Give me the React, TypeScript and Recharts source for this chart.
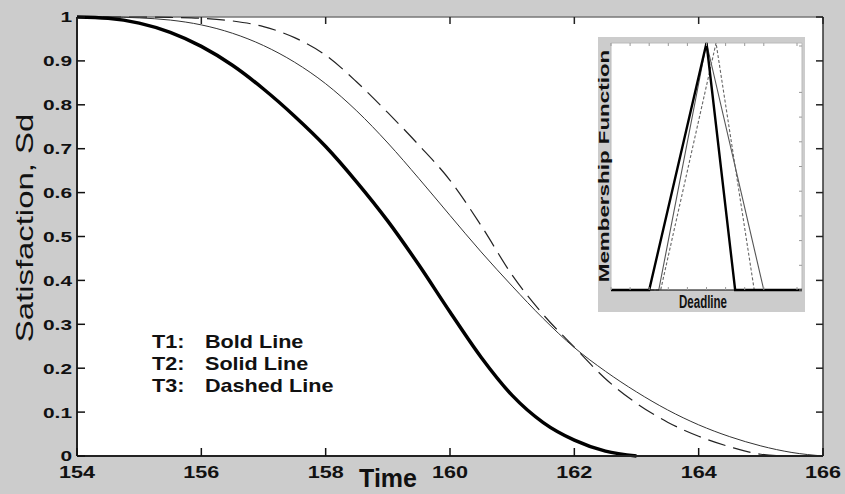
import React from "react";
import { LineChart, Line, XAxis, YAxis, ReferenceLine, CartesianGrid } from "recharts";

const FONT = "'Liberation Sans', Arial, Helvetica, sans-serif";

// main figure: satisfaction against time for the three deadline profiles
const times = [154, 154.5, 155, 155.5, 156, 156.5, 157, 157.5, 158, 158.5, 159, 159.5, 160, 160.5, 161, 161.5, 162, 162.5, 163, 163.5, 164, 164.5, 165, 165.5, 166];
const boldLine = [1, 0.997, 0.986, 0.965, 0.933, 0.89, 0.836, 0.774, 0.705, 0.624, 0.535, 0.435, 0.328, 0.225, 0.138, 0.076, 0.036, 0.011, 0, null, null, null, null, null, null];
const solidLine = [1, 1, 0.998, 0.993, 0.982, 0.963, 0.935, 0.897, 0.848, 0.786, 0.713, 0.632, 0.548, 0.465, 0.387, 0.313, 0.247, 0.193, 0.146, 0.105, 0.071, 0.044, 0.023, 0.008, 0];
const dashedLine = [1, 1, 1, 0.999, 0.997, 0.991, 0.978, 0.953, 0.913, 0.852, 0.782, 0.708, 0.628, 0.525, 0.412, 0.322, 0.248, 0.176, 0.12, 0.077, 0.045, 0.021, 0.004, 0, 0];
const timeTicks = [154, 156, 158, 160, 162, 164, 166];
const satTicks = [0, 0.1, 0.2, 0.3, 0.4, 0.5, 0.6, 0.7, 0.8, 0.9, 1];
const legendIds = ["T1:", "T2:", "T3:"];
const legendNames = ["Bold Line", "Solid Line", "Dashed Line"];

// inset: triangular membership functions over the deadline
const deadlineTicks = [0, 1, 2, 3, 4, 5, 6, 7, 8, 9, 10];
const memberTicks = [0, 0.1, 0.2, 0.3, 0.4, 0.5, 0.6, 0.7, 0.8, 0.9, 1];
const boldTriX = [0, 2, 5, 6.5, 10];
const boldTriY = [0, 0, 1, 0, 0];
const solidTriX = [0, 2.5, 5, 8, 10];
const solidTriY = [0, 0, 1, 0, 0];
const dashedTriX = [0, 2.6, 5.5, 7.5, 10];
const dashedTriY = [0, 0, 1, 0, 0];

const data = times.map((t, i) => ({ time: t, t1: boldLine[i], t2: solidLine[i], t3: dashedLine[i] }));
const tri = (xs: number[], ys: number[]) => xs.map((x, i) => ({ x, y: ys[i] }));

// plot box edges (chart margins + axis sizes)
const PLOT_TOP = 17;
const PLOT_RIGHT = 823;

// y tick: label outside, short marks inside on the left and right edges
const yTick = (props: any) => (
    <g>
        <path d={`M${props.x + 5},${props.y}h8`} stroke="#111" strokeWidth={1.5} fill="none" />
        <path d={`M${PLOT_RIGHT - 7},${props.y}h7`} stroke="#222" strokeWidth={1.5} fill="none" />
        <text
            transform={`translate(${props.x},${props.y + 5.4}) scale(1.39,1)`}
            textAnchor="end"
            fontSize={15}
            fontWeight="bold"
            fontFamily={FONT}
            fill="#111"
        >
            {props.payload.value}
        </text>
    </g>
);

const xTick = (props: any) => (
    <g>
        <path d={`M${props.x},${props.y - 22}v-8`} stroke="#111" strokeWidth={1.5} fill="none" />
        <path d={`M${props.x},${PLOT_TOP}v7`} stroke="#222" strokeWidth={1.5} fill="none" />
        <text
            transform={`translate(${props.x},${props.y}) scale(1.35,1)`}
            textAnchor="middle"
            fontSize={16}
            fontWeight="bold"
            fontFamily={FONT}
            fill="#111"
        >
            {props.payload.value}
        </text>
    </g>
);

// inset plot box inside its own chart
const IN_TOP = 6;
const IN_BOTTOM = 253;
const IN_RIGHT = 204;

const insetXTick = (props: any) => (
    <g>
        <line x1={props.x} x2={props.x} y1={IN_BOTTOM} y2={IN_BOTTOM - 3} stroke="#999" />
        <line x1={props.x} x2={props.x} y1={IN_TOP} y2={IN_TOP + 3} stroke="#999" />
    </g>
);

const insetYTick = (props: any) => (
    <line x1={IN_RIGHT - 3} x2={IN_RIGHT} y1={props.y} y2={props.y} stroke="#999" />
);

function Inset() {
    return (
        <div style={{ position: "absolute", left: 598, top: 37, width: 207, height: 275, background: "#cccccc" }}>
            <div style={{ position: "absolute", left: 13, top: IN_TOP, width: 191, height: 247, background: "#fff" }} />
            <div style={{ position: "absolute", left: 0, top: 0 }}>
                <LineChart width={207} height={275} margin={{ top: IN_TOP, right: 3, bottom: 0, left: 0 }}>
                    <XAxis dataKey="x" type="number" domain={[0, 10]} ticks={deadlineTicks} height={22}
                        tick={insetXTick} tickSize={0} tickMargin={0} tickLine={false} axisLine={{ stroke: "#000" }} />
                    <YAxis type="number" domain={[0, 1]} ticks={memberTicks} width={13}
                        tick={insetYTick} tickSize={0} tickMargin={0} tickLine={false} axisLine={{ stroke: "#bbb" }} />
                    <ReferenceLine y={1} stroke="#bbb" />
                    <ReferenceLine x={10} stroke="#bbb" />
                    <Line data={tri(solidTriX, solidTriY)} dataKey="y" stroke="#555" strokeWidth={1.1} dot={false} isAnimationActive={false} />
                    <Line data={tri(dashedTriX, dashedTriY)} dataKey="y" stroke="#666" strokeWidth={1.1} strokeDasharray="3 2" dot={false} isAnimationActive={false} />
                    <Line data={tri(boldTriX, boldTriY)} dataKey="y" stroke="#000" strokeWidth={2.4} dot={false} isAnimationActive={false} />
                </LineChart>
            </div>
        </div>
    );
}

export default function App() {
    return (
        <div style={{ position: "absolute", left: 0, top: 0, width: 845, height: 494, background: "#cccccc", fontFamily: FONT }}>
            <LineChart width={845} height={494} data={data} margin={{ top: PLOT_TOP, right: 22, bottom: 0, left: 0 }}>
                <CartesianGrid horizontal={false} vertical={false} fill="#ffffff" />
                <XAxis dataKey="time" type="number" domain={[154, 166]} ticks={timeTicks} height={38}
                    tick={xTick} tickSize={0} tickMargin={22} tickLine={false} axisLine={{ stroke: "#222", strokeWidth: 2 }} />
                <YAxis type="number" domain={[0, 1]} ticks={satTicks} width={77}
                    tick={yTick} tickSize={0} tickMargin={5} tickLine={false} axisLine={{ stroke: "#222", strokeWidth: 2 }} />
                <ReferenceLine y={1} stroke="#777" strokeWidth={1.5} />
                <ReferenceLine x={166} stroke="#333" strokeWidth={1.5} />
                <Line type="monotone" dataKey="t3" stroke="#222" strokeWidth={1.2} strokeDasharray="18 8" dot={false} isAnimationActive={false} />
                <Line type="monotone" dataKey="t2" stroke="#333" strokeWidth={1} dot={false} isAnimationActive={false} />
                <Line type="monotone" dataKey="t1" stroke="#000" strokeWidth={3.5} dot={false} isAnimationActive={false} />
            </LineChart>
            <Inset />
            <svg width={845} height={494} style={{ position: "absolute", left: 0, top: 0, pointerEvents: "none" }} fontFamily={FONT}>
                {legendIds.map((id, i) => (
                    <g key={id}>
                        <text transform={`translate(152,${348 + i * 22}) scale(1.2,1)`} fontSize={18} fontWeight="bold" fill="#111">{id}</text>
                        <text transform={`translate(205,${348 + i * 22}) scale(1.2,1)`} fontSize={18} fontWeight="bold" fill="#111">{legendNames[i]}</text>
                    </g>
                ))}
                <text x={417} y={487} textAnchor="end" fontSize={25} fontWeight="bold" fill="#111">Time</text>
                <text transform="translate(33,228) rotate(-90) scale(1.37,1)" textAnchor="middle" fontSize={24} fill="#111">Satisfaction, Sd</text>
                <text transform="translate(609,166) rotate(-90) scale(1.6,1)" textAnchor="middle" fontSize={14} fontWeight="bold" fill="#111">Membership Function</text>
                <text transform="translate(703,308) scale(0.64,1)" textAnchor="middle" fontSize={18} fontWeight="bold" fill="#111">Deadline</text>
            </svg>
        </div>
    );
}
